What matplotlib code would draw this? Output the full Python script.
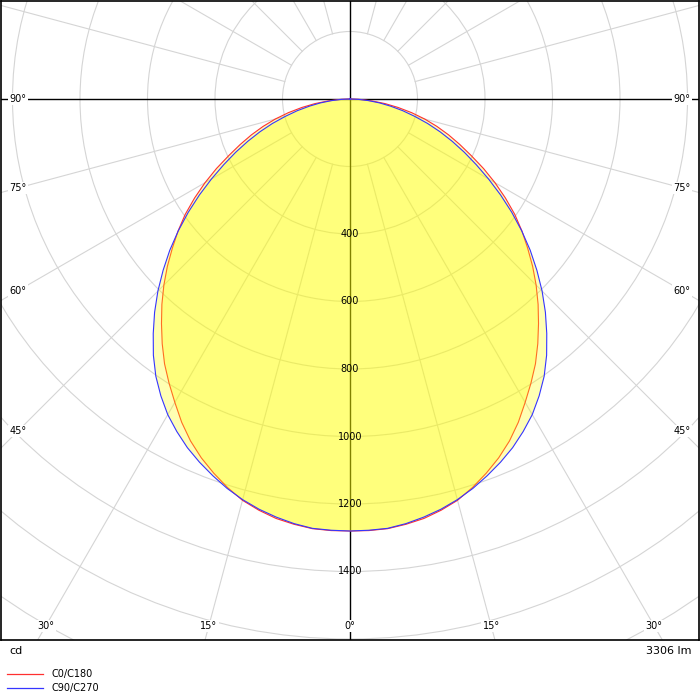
import numpy as np
import matplotlib
matplotlib.use("Agg")
import matplotlib.pyplot as plt
from matplotlib.patches import Circle
from matplotlib.lines import Line2D

plt.rcParams['font.family'] = ['DejaVu Sans']

# ---- data (cd), every 2.5 deg ----
gamma = [0, 2.5, 5, 7.5, 10, 12.5, 15, 17.5, 20, 22.5, 25, 27.5, 30, 32.5, 35, 37.5, 40, 42.5, 45,
         47.5, 50, 52.5, 55, 57.5, 60, 62.5, 65, 67.5, 70, 72.5, 75, 77.5, 80, 82.5, 85, 87.5, 90]
c0_c180 = [1280, 1280, 1278, 1271, 1262, 1248, 1231, 1207, 1180, 1151, 1118, 1080, 1038, 998, 958, 914,
           869, 825, 780, 734, 687, 642, 596, 546, 496, 446, 396, 352, 311, 270, 229, 187, 145, 105, 65, 30, 0]
c90_c270 = [1280, 1279, 1277, 1269, 1258, 1245, 1229, 1210, 1188, 1165, 1140, 1111, 1080, 1043, 1003, 957,
            907, 857, 805, 751, 697, 641, 585, 529, 474, 422, 374, 328, 284, 241, 198, 160, 122, 88, 55, 25, 0]
ring_values = [200, 400, 600, 800, 1000, 1200, 1400, 1600, 1800, 2000]
ring_labels = [400, 600, 800, 1000, 1200, 1400]
side_angle_labels = [90, 75, 60, 45]
bottom_angle_labels = [0, 15, 30]
series_names = ["C0/C180", "C90/C270"]
flux_text = "3306 lm"
unit_text = "cd"

# ---- layout ----
W = H = 700
k = 0.3375  # px per cd
cx, cy = 350, 99
fig = plt.figure(figsize=(7, 7), dpi=100)
left_px, right_px, top_px, bot_px = 1, 699, 1, 640
ax = fig.add_axes([left_px / W, 1 - bot_px / H, (right_px - left_px) / W, (bot_px - top_px) / H])
ax.set_xlim((left_px - cx) / k, (right_px - cx) / k)
ax.set_ylim(-(bot_px - cy) / k, (cy - top_px) / k)
ax.set_xticks([]); ax.set_yticks([])
for s in ax.spines.values():
    s.set_linewidth(1.2)
    s.set_color('black')

grid_c = '#d5d5d5'
# rings
for r in ring_values:
    ax.add_patch(Circle((0, 0), r, fill=False, ec=grid_c, lw=0.8, zorder=1))
# radial lines every 15 deg from the 200 ring
for a in range(0, 360, 15):
    if a % 90 == 0:
        continue
    t = np.radians(a)
    rr = np.array([ring_values[0], 2500])
    ax.plot(rr * np.sin(t), -rr * np.cos(t), color=grid_c, lw=0.8, zorder=1)
# main axes lines
ax.axhline(0, color='black', lw=1.0, zorder=2)
ax.axvline(0, color='black', lw=1.0, zorder=2)

# curves
g = np.radians(np.array(gamma, dtype=float))
def outline(vals):
    v = np.array(vals, dtype=float)
    xr = v * np.sin(g); yr = -v * np.cos(g)
    xs = np.concatenate([xr[::-1], -xr[1:]])
    ys = np.concatenate([yr[::-1], yr[1:]])
    return xs, ys

xs, ys = outline(c0_c180)
ax.fill(xs, ys, color='#ffff00', alpha=0.3, lw=0, zorder=3)
ax.plot(xs, ys, color='#ff3030', lw=0.8, zorder=4)
xs, ys = outline(c90_c270)
ax.fill(xs, ys, color='#ffff00', alpha=0.3, lw=0, zorder=5)
ax.plot(xs, ys, color='#3535ff', lw=0.8, zorder=6)

# ring labels
for r in ring_labels:
    ax.text(0, -r, str(r), ha='center', va='center', fontsize=7, color='black', zorder=7)

# angle labels placed on an inset rectangle
xin = (cx - 18) / k
yin = (626 - cy) / k
bb = dict(boxstyle='square,pad=0.15', fc='white', ec='none')
for a in side_angle_labels:
    t = np.radians(a)
    y = -xin / np.tan(t) if a != 90 else 0
    for sgn in (-1, 1):
        ax.text(sgn * xin, y, f"{a}°", ha='center', va='center', fontsize=7, bbox=bb, zorder=8)
for a in bottom_angle_labels:
    t = np.radians(a)
    x = yin * np.tan(t)
    for sgn in ((1,) if a == 0 else (-1, 1)):
        ax.text(sgn * x, -yin, f"{a}°", ha='center', va='center', fontsize=7, bbox=bb, zorder=8)

# footer texts
fig.text(9 / W, 1 - 651 / H, unit_text, ha='left', va='center', fontsize=8)
fig.text(691 / W, 1 - 651 / H, flux_text, ha='right', va='center', fontsize=8)
for i, (name, col) in enumerate(zip(series_names, ['#ff3030', '#3535ff'])):
    yy = 1 - (673.5 + 14 * i) / H
    fig.add_artist(Line2D([7 / W, 43 / W], [yy, yy], color=col, lw=0.9))
    fig.text(51 / W, yy, name, ha='left', va='center', fontsize=7)

fig.savefig('out.png', dpi=100)
